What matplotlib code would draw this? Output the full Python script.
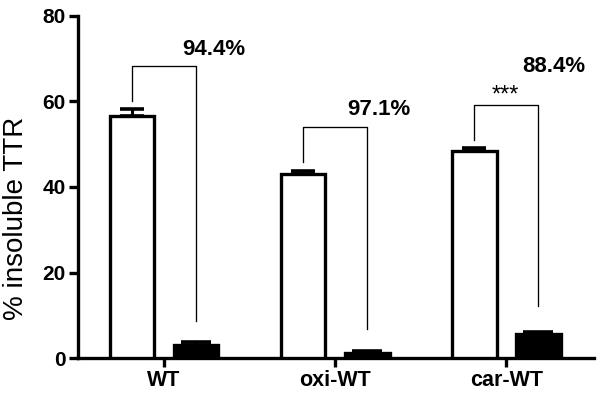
import matplotlib
matplotlib.use("Agg")
import matplotlib.pyplot as plt
import numpy as np

plt.rcParams['font.family'] = ['Liberation Sans', 'DejaVu Sans']

categories = ["WT", "oxi-WT", "car-WT"]
white_vals = [56.6, 43.0, 48.5]
white_err = [1.5, 0.8, 0.6]
black_vals = [3.1, 1.2, 5.7]
black_err = [0.8, 0.5, 0.4]
percent_labels = ["94.4%", "97.1%", "88.4%"]
bracket_top = [68.3, 53.9, 59.1]
bracket_left_bottom = [60.1, 45.9, 51.0]
bracket_right_bottom = [8.8, 6.8, 12.1]
signif_labels = ["", "", "***"]

fig = plt.figure(figsize=(6.01, 3.98), dpi=100)
ax = fig.add_axes([0.129, 0.0997, 0.859, 0.861])

x = np.arange(len(categories))
off = 0.187
w = 0.26
lw = 2.4

ax.bar(x - off, white_vals, width=w, color="white", edgecolor="black", linewidth=lw, zorder=3)
ax.bar(x + off, black_vals, width=w, color="black", edgecolor="black", linewidth=lw, zorder=3)
ax.errorbar(x - off, white_vals, yerr=[np.zeros(3), white_err], fmt="none", ecolor="black",
            elinewidth=2.2, capsize=8.5, capthick=2.6, zorder=4)
ax.errorbar(x + off, black_vals, yerr=[np.zeros(3), black_err], fmt="none", ecolor="black",
            elinewidth=2.2, capsize=11, capthick=2.6, zorder=4)

for i in range(len(categories)):
    xl, xr = x[i] - off, x[i] + off
    ax.plot([xl, xl, xr, xr], [bracket_left_bottom[i], bracket_top[i], bracket_top[i], bracket_right_bottom[i]],
            color="black", linewidth=0.95, zorder=2)

# percentage labels
ax.text(x[0] + 0.288, 72.1, percent_labels[0], ha="center", va="center", fontsize=16, fontweight="bold")
ax.text(x[1] + 0.257, 58.2, percent_labels[1], ha="center", va="center", fontsize=16, fontweight="bold")
ax.text(x[2] + 0.277, 68.1, percent_labels[2], ha="center", va="center", fontsize=16, fontweight="bold")
ax.text(x[2] - 0.005, 61.3, signif_labels[2], ha="center", va="center", fontsize=17)

ax.set_xlim(-0.505, 2.51)
ax.set_ylim(0, 80)
ax.set_yticks([0, 20, 40, 60, 80])
ax.set_xticks(x)
ax.set_xticklabels(categories)
for lab in ax.get_yticklabels():
    lab.set_fontweight("bold")
    lab.set_fontsize(15)
for lab in ax.get_xticklabels():
    lab.set_fontweight("bold")
    lab.set_fontsize(15.5)

ax.spines["top"].set_visible(False)
ax.spines["right"].set_visible(False)
ax.spines["left"].set_linewidth(2.4)
ax.spines["bottom"].set_linewidth(2.4)
ax.tick_params(axis="both", direction="out", length=6.5, width=2.4, pad=2)

fig.text(16.5 / 601, 1 - 218 / 398, "% insoluble TTR", rotation=90, ha="center", va="center", fontsize=20)

fig.savefig("out.png", dpi=100)
